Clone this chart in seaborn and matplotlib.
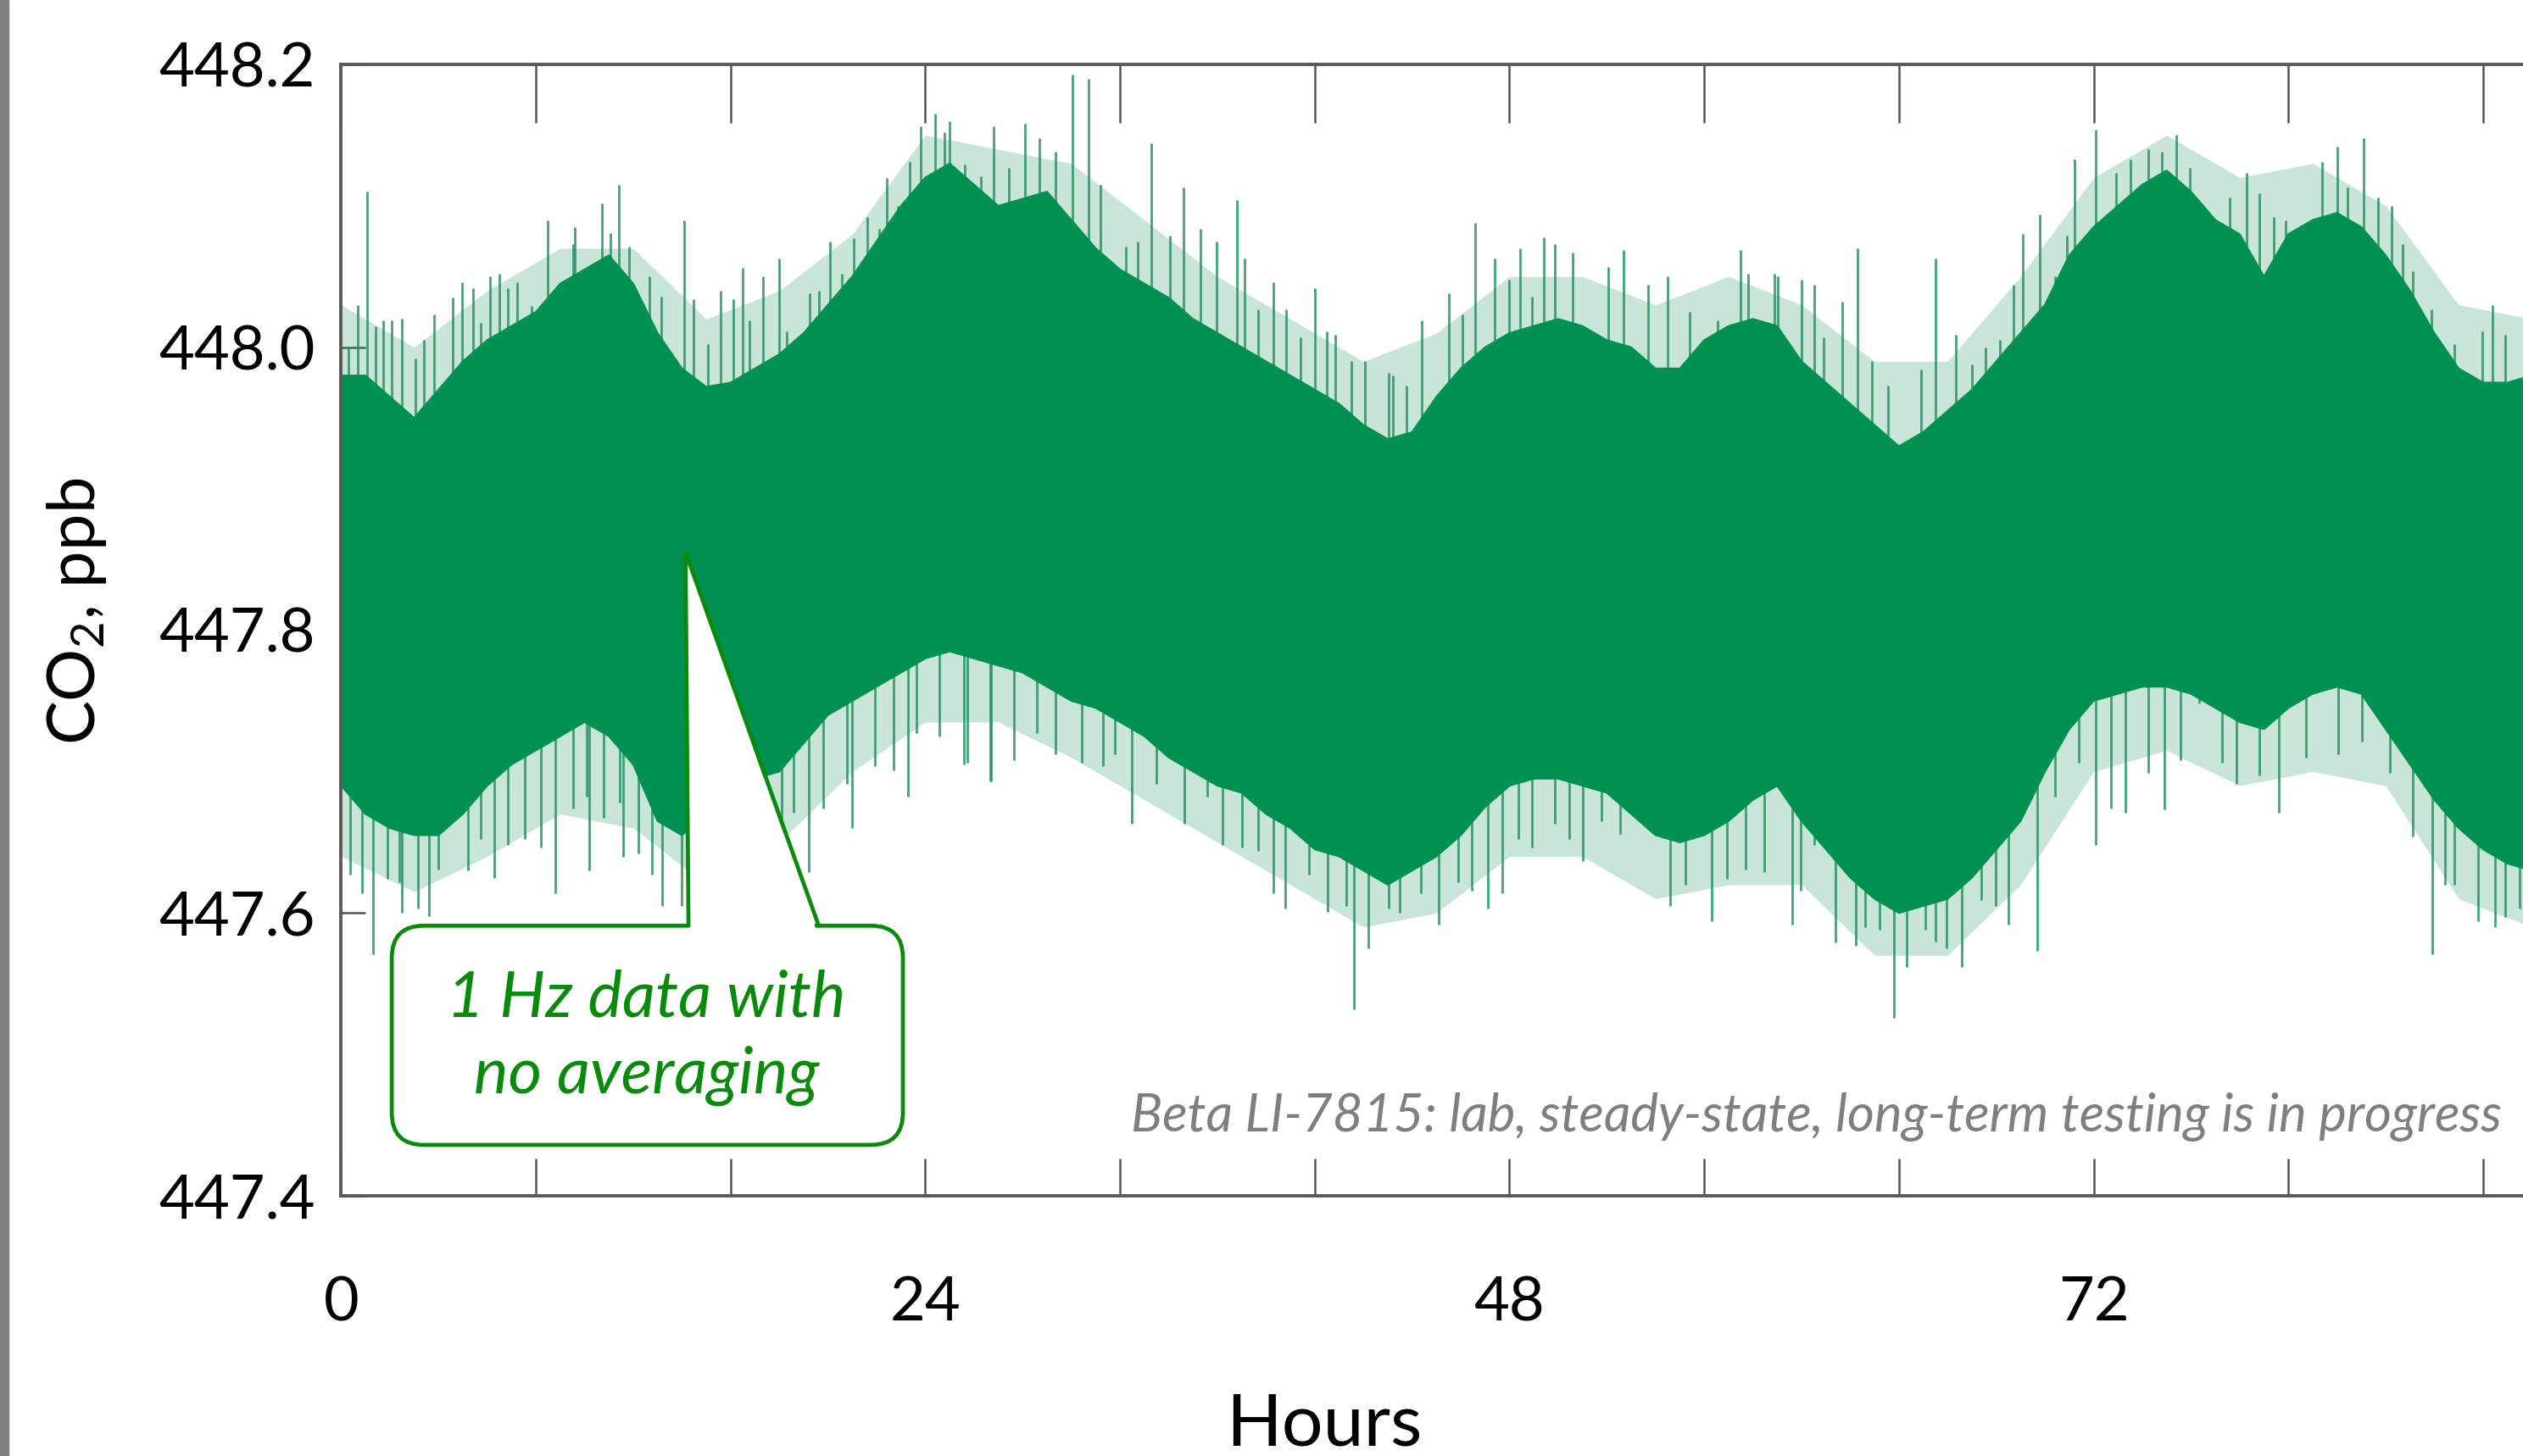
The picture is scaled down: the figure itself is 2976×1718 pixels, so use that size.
import numpy as np
import matplotlib
matplotlib.use("Agg")
import matplotlib.pyplot as plt
import seaborn as sns
from matplotlib.patches import FancyBboxPatch, Polygon, Rectangle
from matplotlib.ticker import FixedLocator, FuncFormatter

# hourly envelope of the dense 1 Hz band (ppb)
hours = np.arange(0, 91)
band_top = [
    447.980, 447.980, 447.965, 447.950, 447.970, 447.990, 448.005, 448.015, 448.025, 448.045,
    448.055, 448.065, 448.045, 448.010, 447.985, 447.972, 447.975, 447.985, 447.995, 448.010,
    448.030, 448.050, 448.075, 448.100, 448.120, 448.130, 448.115, 448.100, 448.105, 448.110,
    448.090, 448.070, 448.055, 448.045, 448.035, 448.020, 448.010, 448.000, 447.990, 447.980,
    447.970, 447.960, 447.945, 447.935, 447.940, 447.965, 447.985, 448.000, 448.010, 448.015,
    448.020, 448.015, 448.005, 448.000, 447.985, 447.985, 448.005, 448.015, 448.020, 448.015,
    447.990, 447.975, 447.960, 447.945, 447.930, 447.940, 447.955, 447.970, 447.990, 448.010,
    448.030, 448.065, 448.085, 448.100, 448.115, 448.125, 448.110, 448.090, 448.080, 448.050,
    448.080, 448.090, 448.095, 448.085, 448.065, 448.040, 448.010, 447.985, 447.975, 447.975,
    447.980,
]
band_bottom = [
    447.690, 447.670, 447.660, 447.655, 447.655, 447.670, 447.690, 447.705, 447.715, 447.725,
    447.735, 447.725, 447.705, 447.665, 447.655, 447.670, 447.690, 447.695, 447.700, 447.720,
    447.740, 447.750, 447.760, 447.770, 447.780, 447.785, 447.780, 447.775, 447.770, 447.760,
    447.750, 447.745, 447.735, 447.725, 447.710, 447.700, 447.690, 447.685, 447.670, 447.660,
    447.645, 447.640, 447.630, 447.620, 447.630, 447.640, 447.655, 447.675, 447.690, 447.695,
    447.695, 447.690, 447.685, 447.670, 447.655, 447.650, 447.655, 447.665, 447.680, 447.690,
    447.665, 447.645, 447.625, 447.610, 447.600, 447.605, 447.610, 447.625, 447.645, 447.665,
    447.700, 447.730, 447.750, 447.755, 447.760, 447.760, 447.755, 447.745, 447.735, 447.730,
    447.745, 447.755, 447.760, 447.755, 447.730, 447.705, 447.680, 447.660, 447.645, 447.635,
    447.630,
]

# outer, hairy part of the band, every 3 hours
fringe_hours = np.arange(0, 91, 3)
fringe_top = [
    448.030, 448.000, 448.040, 448.070, 448.070, 448.020, 448.040, 448.080, 448.150, 448.140,
    448.130, 448.090, 448.050, 448.020, 447.990, 448.010, 448.050, 448.050, 448.030, 448.050,
    448.030, 447.990, 447.990, 448.050, 448.120, 448.150, 448.120, 448.130, 448.100, 448.030,
    448.020,
]
fringe_bottom = [
    447.640, 447.615, 447.640, 447.670, 447.660, 447.620, 447.650, 447.700, 447.735, 447.735,
    447.710, 447.680, 447.650, 447.620, 447.590, 447.600, 447.640, 447.640, 447.610, 447.620,
    447.620, 447.570, 447.570, 447.620, 447.700, 447.715, 447.690, 447.700, 447.690, 447.610,
    447.590,
]

# single excursions above the band: hour and tip value
spike_up_hours = [
    0.29, 0.7, 1.05, 1.43, 1.72, 2.06, 2.5, 3.05, 3.4, 3.81, 4.6, 4.96, 5.43, 5.72, 6.1, 6.5,
    6.86, 7.24, 7.81, 8.5, 9.15, 9.53, 9.6, 10.29, 10.7, 11.05, 11.4, 11.82, 12.67, 13.15,
    14.1, 14.48, 15.06, 15.6, 16.1, 16.5, 16.77, 17.34, 18.0, 18.3, 19.25, 19.63, 20.1, 20.58,
    21.06, 21.6, 22.11, 22.4, 22.87, 23.35, 23.8, 24.4, 24.78, 25.0, 25.63, 26.3, 26.8, 27.44,
    28.1, 28.7, 29.35, 30.05, 30.7, 31.2, 32.25, 32.73, 33.3, 34.06, 34.6, 35.3, 35.97, 36.8,
    37.11, 37.68, 38.3, 38.83, 39.4, 40.0, 40.5, 40.83, 41.5, 42.07, 43.02, 43.2, 43.78, 44.4,
    45.5, 46.07, 46.6, 47.4, 47.98, 48.45, 48.93, 49.4, 49.88, 50.6, 52.07, 52.7, 53.69, 54.5,
    55.41, 56.55, 57.5, 57.79, 58.9, 59.03, 60.0, 60.52, 60.9, 61.67, 62.3, 62.9, 63.57, 64.91,
    65.5, 66.34, 67.0, 67.57, 68.15, 68.72, 69.1, 69.8, 70.43, 70.91, 71.2, 72.1, 72.91, 73.5,
    74.24, 74.82, 75.4, 75.96, 76.53, 77.58, 78.3, 78.82, 79.39, 79.9, 80.53, 81.39, 82.0,
    82.44, 83.1, 83.68, 84.25, 84.7, 85.11, 85.87, 86.82, 87.97, 88.4, 88.92,
]
spike_up_tips = [
    448.000, 448.030, 448.110, 448.015, 448.019, 448.019, 448.020, 447.992, 448.005, 448.023,
    448.035, 448.046, 448.042, 448.017, 448.050, 448.052, 448.042, 448.046, 448.029, 448.090,
    448.029, 448.073, 448.085, 448.054, 448.102, 448.081, 448.115, 448.071, 448.050, 448.036,
    448.090, 448.034, 448.002, 448.040, 448.034, 448.056, 448.019, 448.050, 448.063, 448.011,
    448.038, 448.040, 448.075, 448.052, 448.077, 448.092, 448.084, 448.120, 448.100, 448.131,
    448.156, 448.165, 448.152, 448.160, 448.129, 448.121, 448.156, 448.127, 448.158, 448.148,
    448.138, 448.193, 448.190, 448.115, 448.071, 448.075, 448.144, 448.079, 448.113, 448.084,
    448.075, 448.104, 448.063, 448.027, 448.046, 448.027, 448.007, 448.042, 448.011, 448.009,
    447.990, 447.990, 447.982, 447.980, 447.973, 448.019, 448.038, 448.023, 448.088, 448.063,
    448.048, 448.070, 448.036, 448.078, 448.073, 448.067, 448.057, 448.069, 448.044, 448.050,
    448.025, 448.019, 448.069, 448.052, 448.052, 448.050, 448.048, 448.044, 448.007, 448.032,
    448.070, 447.990, 447.973, 447.984, 448.063, 448.009, 447.988, 448.000, 448.005, 448.044,
    448.080, 448.094, 448.050, 448.079, 448.133, 448.154, 448.123, 448.133, 448.140, 448.138,
    448.150, 448.127, 448.090, 448.106, 448.123, 448.109, 448.092, 448.090, 448.086, 448.131,
    448.142, 448.113, 448.148, 448.106, 448.100, 448.073, 448.054, 448.027, 448.002, 448.011,
    448.030, 448.009,
]
# single excursions below the band
spike_down_hours = [
    0.38, 0.86, 1.3, 1.91, 2.38, 2.5, 3.14, 3.6, 4.0, 5.2, 5.72, 6.3, 6.86, 7.53, 8.2, 8.8,
    9.53, 10.1, 10.2, 10.77, 11.44, 11.6, 12.2, 12.77, 13.2, 14.0, 17.0, 18.11, 18.58, 19.2,
    19.82, 20.77, 21.0, 21.92, 22.68, 23.3, 23.63, 24.59, 25.6, 25.73, 26.68, 26.7, 27.64,
    28.59, 29.35, 30.44, 31.3, 31.78, 32.5, 33.49, 34.63, 35.59, 36.2, 37.02, 37.68, 38.3,
    38.8, 39.78, 40.54, 41.31, 41.6, 42.2, 43.02, 43.5, 44.35, 45.1, 45.88, 46.45, 47.1,
    47.69, 48.36, 48.93, 49.88, 50.45, 51.0, 51.79, 52.55, 53.5, 54.6, 55.22, 56.3, 56.93,
    57.7, 58.46, 59.6, 59.95, 60.52, 61.4, 62.24, 62.6, 63.19, 63.8, 64.33, 65.1, 65.5, 65.95,
    66.6, 67.38, 67.96, 68.5, 69.7, 70.43, 71.39, 72.1, 72.72, 73.3, 74.24, 74.9, 75.58,
    76.34, 77.29, 77.87, 78.82, 79.6, 80.72, 82.06, 83.01, 84.16, 85.11, 85.9, 86.44, 86.82,
    87.8, 88.5, 88.92, 89.49,
]
spike_down_tips = [
    447.627, 447.614, 447.571, 447.624, 447.622, 447.600, 447.603, 447.598, 447.631, 447.630,
    447.652, 447.625, 447.648, 447.652, 447.646, 447.614, 447.674, 447.682, 447.630, 447.667,
    447.678, 447.640, 447.642, 447.627, 447.605, 447.605, 447.650, 447.665, 447.671, 447.629,
    447.674, 447.691, 447.660, 447.704, 447.701, 447.682, 447.727, 447.725, 447.705, 447.706,
    447.693, 447.693, 447.708, 447.727, 447.712, 447.706, 447.704, 447.712, 447.663, 447.691,
    447.663, 447.682, 447.648, 447.646, 447.644, 447.614, 447.603, 447.627, 447.601, 447.605,
    447.532, 447.575, 447.603, 447.600, 447.614, 447.592, 447.622, 447.616, 447.603, 447.614,
    447.652, 447.646, 447.663, 447.652, 447.637, 447.665, 447.656, 447.663, 447.605, 447.620,
    447.594, 447.624, 447.631, 447.629, 447.592, 447.616, 447.648, 447.579, 447.577, 447.590,
    447.588, 447.526, 447.562, 447.588, 447.580, 447.575, 447.562, 447.609, 447.605, 447.592,
    447.573, 447.682, 447.706, 447.648, 447.674, 447.671, 447.699, 447.673, 447.708, 447.748,
    447.706, 447.691, 447.697, 447.671, 447.710, 447.712, 447.721, 447.699, 447.654, 447.571,
    447.620, 447.620, 447.594, 447.590, 447.597, 447.603,
]

y_ticks = [447.4, 447.6, 447.8, 448.0, 448.2]
x_ticks = [0, 8, 16, 24, 32, 40, 48, 56, 64, 72, 80, 88]
x_labelled = [0, 24, 48, 72]

green = "#00904f"
hair = "#2a8f63"
call_green = "#0a8a0a"

sns.set_theme(style="ticks")
plt.rcParams["font.family"] = ["Lato", "DejaVu Sans"]
plt.rcParams["mathtext.fontset"] = "custom"
plt.rcParams["mathtext.rm"] = "Lato"
plt.rcParams["mathtext.it"] = "Lato:italic"

fig = plt.figure(figsize=(29.76, 17.18), dpi=100)
fig.patch.set_facecolor("white")
ax = fig.add_axes([402.4 / 2976, 307 / 1718, 96 * 28.71 / 2976, 1335 / 1718])

# slide border on the left
fig.patches.append(Rectangle((0, 0), 10 / 2976, 1, transform=fig.transFigure,
                             color="#7f7f7f", zorder=0))

# the 1 Hz band: faint fringe, single hairs, solid core
ax.fill_between(fringe_hours, fringe_bottom, fringe_top, color=green, alpha=0.22,
                lw=0, zorder=1)
ax.vlines(spike_up_hours, 447.85, spike_up_tips, color=hair, alpha=0.85,
          lw=2.0, zorder=1.5)
ax.vlines(spike_down_hours, 447.85, spike_down_tips, color=hair, alpha=0.85,
          lw=2.0, zorder=1.5)
ax.fill_between(hours, band_bottom, band_top, color=green, lw=0, zorder=2)
sns.lineplot(x=hours, y=band_top, color=green, lw=1.5, ax=ax, zorder=2)
sns.lineplot(x=hours, y=band_bottom, color=green, lw=1.5, ax=ax, zorder=2)

ax.set_xlim(0, 96)
ax.set_ylim(447.4, 448.2)

for side in ["top", "bottom", "left", "right"]:
    ax.spines[side].set_visible(True)
    ax.spines[side].set_color("#595959")
    ax.spines[side].set_linewidth(2.8)
    ax.spines[side].set_zorder(2.5)

ax.xaxis.set_major_locator(FixedLocator(x_ticks))
ax.xaxis.set_major_formatter(FuncFormatter(
    lambda v, p: f"{int(v)}" if int(v) in x_labelled else ""))
ax.tick_params(axis="x", direction="in", length=32, width=1.8, color="#555555",
               pad=68, labelsize=52, labelcolor="black", top=False)
sec = ax.secondary_xaxis("top")
sec.xaxis.set_major_locator(FixedLocator(x_ticks))
sec.tick_params(axis="x", direction="in", length=50, width=1.8, color="#555555",
                labeltop=False)
sec.spines["top"].set_visible(False)

ax.yaxis.set_major_locator(FixedLocator(y_ticks))
ax.yaxis.set_major_formatter(FuncFormatter(lambda v, p: f"{v:.1f}"))
ax.tick_params(axis="y", direction="in", length=21, width=1.8, color="#555555",
               pad=22, labelsize=52, labelcolor="black")

ax.set_ylabel("CO$_2$, ppb", fontsize=56, color="black", va="center")
ax.yaxis.set_label_coords((91 - 402.4) / 2756, (1411 - 721) / 1335)
ax.set_xlabel("Hours", fontsize=62, color="black", va="center")
ax.xaxis.set_label_coords((1562 - 402.4) / 2756, (1411 - 1682) / 1335)

# call-out box with pointer
r = 1.32
asp = (38 / 1669) / r
box = FancyBboxPatch((2.08, 447.436), 23.08 - 2.08, 447.591 - 447.436,
                     boxstyle=f"round,pad=0,rounding_size={r}", mutation_aspect=asp,
                     facecolor="white", edgecolor=call_green, lw=3.4, zorder=5)
ax.add_patch(box)
ax.add_patch(Polygon([(14.27, 447.583), (14.15, 447.855), (19.62, 447.583)],
                     closed=True, facecolor="white", edgecolor="none", zorder=6))
ax.plot([14.27, 14.15, 19.62], [447.591, 447.855, 447.591], color=call_green,
        lw=3.4, zorder=7, solid_joinstyle="miter")
ax.text(12.55, 447.512, "1 Hz data with\nno averaging", fontsize=55, style="italic",
        color=call_green, ha="center", va="center", linespacing=1.38, zorder=8)

ax.text(88.77, 447.456, "Beta LI-7815: lab, steady-state, long-term testing is in progress",
        fontsize=44.5, style="italic", color="#7f7f7f", ha="right", va="center", zorder=8)

fig.savefig("out.png", dpi=100, facecolor="white")
